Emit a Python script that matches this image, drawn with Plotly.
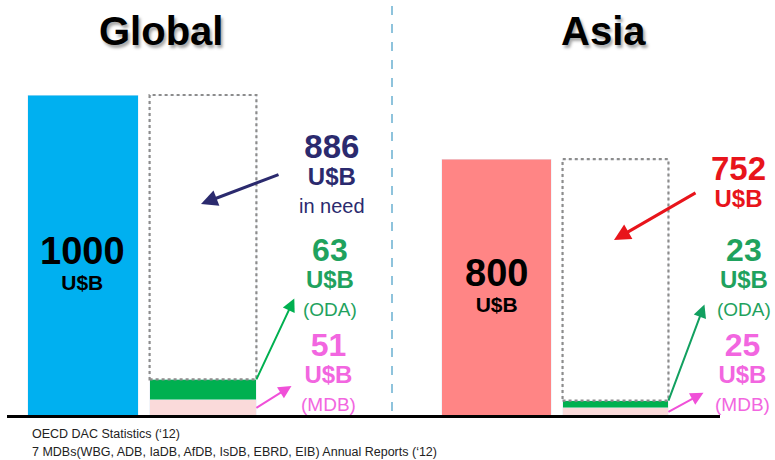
import plotly.graph_objects as go
from plotly.subplots import make_subplots

# ---------------- data ----------------
regions = ["Global", "Asia"]
categories = ["Total", "Funding"]
total_need = [1000, 800]      # U$B
mdb = [51, 25]                # U$B (MDB)
oda = [63, 23]                # U$B (ODA)
in_need = [886, 752]          # U$B in need
sources = ["OECD DAC Statistics (\u201812)",
           "7 MDBs(WBG, ADB, IaDB, AfDB, IsDB, EBRD, EIB) Annual Reports (\u201812)"]

# ---------------- style ----------------
W, H = 775, 460
FONT = "Arial, Liberation Sans, sans-serif"
total_colors = ["#00B0F0", "#FF8585"]
GREEN = "#00B050"
PINK = "#FADADA"
need_colors = ["#2B2A6E", "#E8141B"]
oda_text = "#1FA25E"
mdb_text = "#F266E0"
BASE = 416            # pixel row of value 0
K = (416 - 95) / 1000.0  # pixels per U$B
HALF = 0.445          # half width of funding bar (category units)

def px(x):
    return x / W

def py(y):
    return 1 - y / H

fig = make_subplots(rows=1, cols=2)
fig.update_layout(
    xaxis=dict(domain=[px(23), px(263)]),
    xaxis2=dict(domain=[px(437), px(675)]),
)
bar_right_px = [203 + HALF * 120, 615.5 + HALF * 119]

yrange = [-(H - BASE) / K, BASE / K]

for i, reg in enumerate(regions):
    col = i + 1
    fig.add_trace(go.Bar(x=[categories[0]], y=[total_need[i]], marker_color=total_colors[i],
                         width=0.92, showlegend=False, hoverinfo="skip"), row=1, col=col)
    fig.add_trace(go.Bar(x=[categories[1]], y=[mdb[i]], marker_color=PINK,
                         width=2 * HALF, showlegend=False, hoverinfo="skip"), row=1, col=col)
    fig.add_trace(go.Bar(x=[categories[1]], y=[oda[i]], marker_color=GREEN,
                         width=2 * HALF, showlegend=False, hoverinfo="skip"), row=1, col=col)
    fig.add_trace(go.Bar(x=[categories[1]], y=[in_need[i]], marker_color="rgba(255,255,255,0)",
                         width=2 * HALF, showlegend=False, hoverinfo="skip"), row=1, col=col)
    xr = "x" if i == 0 else "x2"
    yr = "y" if i == 0 else "y2"
    fig.add_shape(type="rect", xref=xr, yref=yr,
                  x0=1 - HALF, x1=1 + HALF,
                  y0=mdb[i] + oda[i], y1=mdb[i] + oda[i] + in_need[i],
                  line=dict(color="#8C8C8C", width=2.2, dash="dot"))

fig.update_layout(barmode="stack")
for ax in ["xaxis", "xaxis2"]:
    fig.layout[ax].update(range=[-0.5, 1.5], visible=False, fixedrange=True)
for ax in ["yaxis", "yaxis2"]:
    fig.layout[ax].update(range=yrange, visible=False, domain=[0, 1])

# baseline and divider
fig.add_shape(type="line", xref="paper", yref="paper", x0=px(7), x1=px(720),
              y0=py(416.5), y1=py(416.5), line=dict(color="black", width=3))
fig.add_shape(type="line", xref="paper", yref="paper", x0=px(392), x1=px(392),
              y0=py(6), y1=py(412), line=dict(color="#8EC3DC", width=2, dash="dash"))

ann = []

def text(x, y, s, size, color, bold=False, **kw):
    ann.append(dict(x=px(x), y=py(y), xref="paper", yref="paper", text=f"<b>{s}</b>" if bold else s,
                    showarrow=False, xanchor=kw.get("xanchor", "center"), yanchor="middle",
                    font=dict(family=FONT, size=size, color=color, shadow=kw.get("shadow", "none"))))

def label(x, y, num, sub, color, num_size=33, unit_size=24, sub_size=20, base=21):
    lines = [f"<span style='font-size:{num_size}px'><b>{num}</b></span>",
             f"<span style='font-size:{unit_size}px'><b>U$B</b></span>"]
    if sub:
        lines.append(f"<span style='font-size:{sub_size}px'>{sub}</span>")
    ann.append(dict(x=px(x), y=py(y), xref="paper", yref="paper", showarrow=False,
                    text="<br>".join(lines), xanchor="center", yanchor="middle",
                    font=dict(family=FONT, size=base, color=color)))

def arrow(x0, y0, x1, y1, color, width=2):
    ann.append(dict(x=px(x1), y=py(y1), xref="paper", yref="paper",
                    ax=x0 - x1, ay=y0 - y1, axref="pixel", ayref="pixel",
                    text="", showarrow=True, arrowhead=2, arrowsize=1.1 if width > 2 else 1.3,
                    arrowwidth=width, arrowcolor=color))

def arrow_from_bar(i, value, hx, hy, color):
    xr = "x" if i == 0 else "x2"
    yr = "y" if i == 0 else "y2"
    tx = bar_right_px[i]
    ty = BASE - value * K
    ann.append(dict(x=1 + HALF, y=value, xref=xr, yref=yr,
                    ax=hx - tx, ay=hy - ty, axref="pixel", ayref="pixel",
                    text="", showarrow=True, arrowside="start", startarrowhead=2,
                    startarrowsize=1.3, arrowwidth=2, arrowcolor=color))

# titles
text(161, 31, regions[0], 40, "black", True, shadow="2px 3px 3px rgba(0,0,0,0.35)")
text(603, 31, regions[1], 40, "black", True, shadow="2px 3px 3px rgba(0,0,0,0.35)")

# totals
label(82, 262, total_need[0], None, "black", num_size=38, unit_size=21, base=20)
label(497, 284, total_need[1], None, "black", num_size=38, unit_size=21, base=20)

# Global labels
label(332, 173, in_need[0], "in need", need_colors[0])
label(330, 276, oda[0], "(ODA)", oda_text, num_size=32, sub_size=19)
label(328, 371, mdb[0], "(MDB)", mdb_text, num_size=32, sub_size=19)

# Asia labels
label(738, 181, in_need[1], None, need_colors[1])
label(744, 276, oda[1], "(ODA)", oda_text, num_size=32, sub_size=19)
label(742, 371, mdb[1], "(MDB)", mdb_text, num_size=32, sub_size=19)

# arrows
arrow(280, 174, 201, 204, need_colors[0], 3)
arrow(697, 192, 614, 240, need_colors[1], 3)
arrow_from_bar(0, mdb[0] + oda[0], 295, 297, GREEN)
arrow_from_bar(0, mdb[0] / 2, 293, 385, "#F050D8")
arrow_from_bar(1, mdb[1] + oda[1], 705, 303, "#12A060")
arrow_from_bar(1, mdb[1] / 2, 705, 392, "#F050D8")

# sources
text(30, 434, sources[0], 12.5, "#222222", xanchor="left")
text(30, 452, sources[1], 12.5, "#222222", xanchor="left")

fig.update_layout(annotations=ann, width=W, height=H, margin=dict(l=0, r=0, t=0, b=0),
                  paper_bgcolor="white", plot_bgcolor="white", font=dict(family=FONT))
fig.write_html("out.html")
